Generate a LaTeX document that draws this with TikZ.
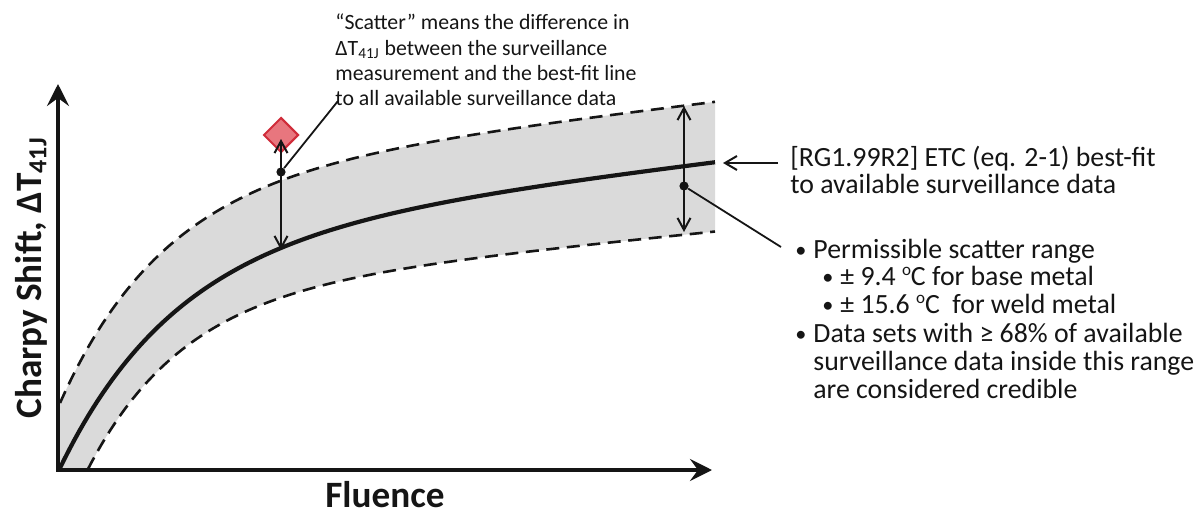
\documentclass[tikz,border=0pt]{standalone}
\usepackage{fontspec}
\setmainfont{Carlito}
\usetikzlibrary{arrows.meta,shapes.geometric}
\definecolor{band}{HTML}{DADADA}
\definecolor{markfill}{HTML}{E8767E}
\definecolor{markedge}{HTML}{D02C3A}
\definecolor{ink}{HTML}{151515}
\newcommand{\bul}{\makebox[9pt][l]{\raisebox{0.5pt}{\scalebox{0.8}{•}}}}
\newcommand{\degsign}{\smash{\raisebox{0.35em}{\fontsize{8.5}{9}\selectfont o}}}
\begin{document}
\begin{tikzpicture}[x=0.5pt,y=-0.5pt,
  declare function={
    fitY(\t)=468-(228*(1-exp(-\t/117))+0.12*\t);
    upY(\t)=403-(223*(1-exp(-\t/105))+0.12*\t);
    lowY(\t)=469-(175*(1-exp(-\t/95))+0.1*\t);
  },
  axisline/.style={line width=2.1pt, draw=ink,
    {Stealth[length=11pt,width=11pt,inset=4pt]}-{Stealth[length=11pt,width=11pt,inset=4pt]}},
  fitline/.style={line width=2.1pt, draw=ink},
  bound/.style={line width=1.3pt, draw=ink, dash pattern=on 6.5pt off 3.8pt},
  spanarrow/.style={line width=1pt, draw=ink,
    {Straight Barb[length=6pt,width=6.5pt]}-{Straight Barb[length=6pt,width=6.5pt]}},
  pointer/.style={line width=1pt, draw=ink, -{Straight Barb[length=6pt,width=7pt]}},
  leader/.style={line width=0.9pt, draw=ink},
  joint/.style={circle, fill=ink, inner sep=0pt, minimum size=4.6pt},
  note/.style={font=\fontsize{10.9}{13}\selectfont, text=ink, anchor=base west, inner sep=0pt},
  body/.style={font=\fontsize{13.9}{16}\selectfont, text=ink, anchor=base west, inner sep=0pt},
  axlabel/.style={font=\fontsize{18.6}{22}\selectfont\bfseries, text=ink, inner sep=0pt},
]
\useasboundingbox (0,0) rectangle (1200,514);

% scatter band between the two dashed limits
\fill[band] (58,403)
  -- plot[domain=0:655, samples=140, variable=\t] ({60+\t},{upY(\t)})
  -- plot[domain=0:627, samples=140, variable=\t] ({715-\t},{lowY(627-\t)})
  -- (58,470) -- cycle;

% dashed limits
\draw[bound] plot[domain=0:655, samples=140, variable=\t] ({60+\t},{upY(\t)});
\draw[bound] plot[domain=0:627, samples=140, variable=\t] ({88+\t},{lowY(\t)});

% best-fit trend curve
\draw[fitline] plot[domain=0:655, samples=140, variable=\t] ({60+\t},{fitY(\t)});

% axes
\coordinate (O) at (58,470);
\coordinate (ytip) at (58,84);
\coordinate (xtip) at (712,470);
\draw[axisline] (ytip) -- (O) -- (xtip);

% surveillance measurement and its scatter
\node[diamond, draw=markedge, fill=markfill, line width=1pt, inner sep=0pt,
  minimum width=17.5pt, minimum height=17.5pt] (meas) at (281,135) {};
\coordinate (measTop) at (281,139);
\coordinate (fitPt) at (281,250);
\draw[spanarrow] (measTop) -- (fitPt);
\node[joint] (dotA) at (281,172) {};

% permissible scatter range
\coordinate (bandTop) at (684,106);
\coordinate (bandBot) at (684,232);
\draw[spanarrow] (bandTop) -- (bandBot);
\node[joint] (dotB) at (684,186) {};

% annotations
\node[note] (n1) at (335,29) {“Scatter” means the difference in};
\node[note] (n2) at (335,55) {ΔT\textsubscript{41J} between the surveillance};
\node[note] (n3) at (335,80) {measurement and the best-fit line};
\node[note] (n4) at (335,105) {to all available surveillance data};
\coordinate (leadA) at (338,101);
\draw[leader] (dotA) -- (leadA);

\node[body] (f1) at (790,166) {[RG1.99R2] ETC (eq. 2-1) best-fit};
\node[body] (f2) at (790,193) {to available surveillance data};
\coordinate (ptrStart) at (778,163);
\coordinate (ptrEnd) at (723,163);
\draw[pointer] (ptrStart) -- (ptrEnd);

\node[body] (b1) at (795,258) {\bul Permissible scatter range};
\node[body] (b2) at (822,285) {\bul ± 9.4 \degsign C for base metal};
\node[body] (b3) at (822,313) {\bul ± 15.6 \degsign C\ \ for weld metal};
\node[body] (b4) at (795,342) {\bul Data sets with ≥ 68\% of available};
\node[body] (b5) at (813,370) {surveillance data inside this range};
\node[body] (b6) at (813,398) {are considered credible};
\coordinate (leadB) at (781,247);
\draw[leader] (dotB) -- (leadB);

% axis titles
\node[axlabel, rotate=90] (ylab) at (31,278) {Charpy Shift, ΔT\textsubscript{41J}};
\node[axlabel, anchor=base] (xlab) at (385,507) {Fluence};
\end{tikzpicture}
\end{document}
